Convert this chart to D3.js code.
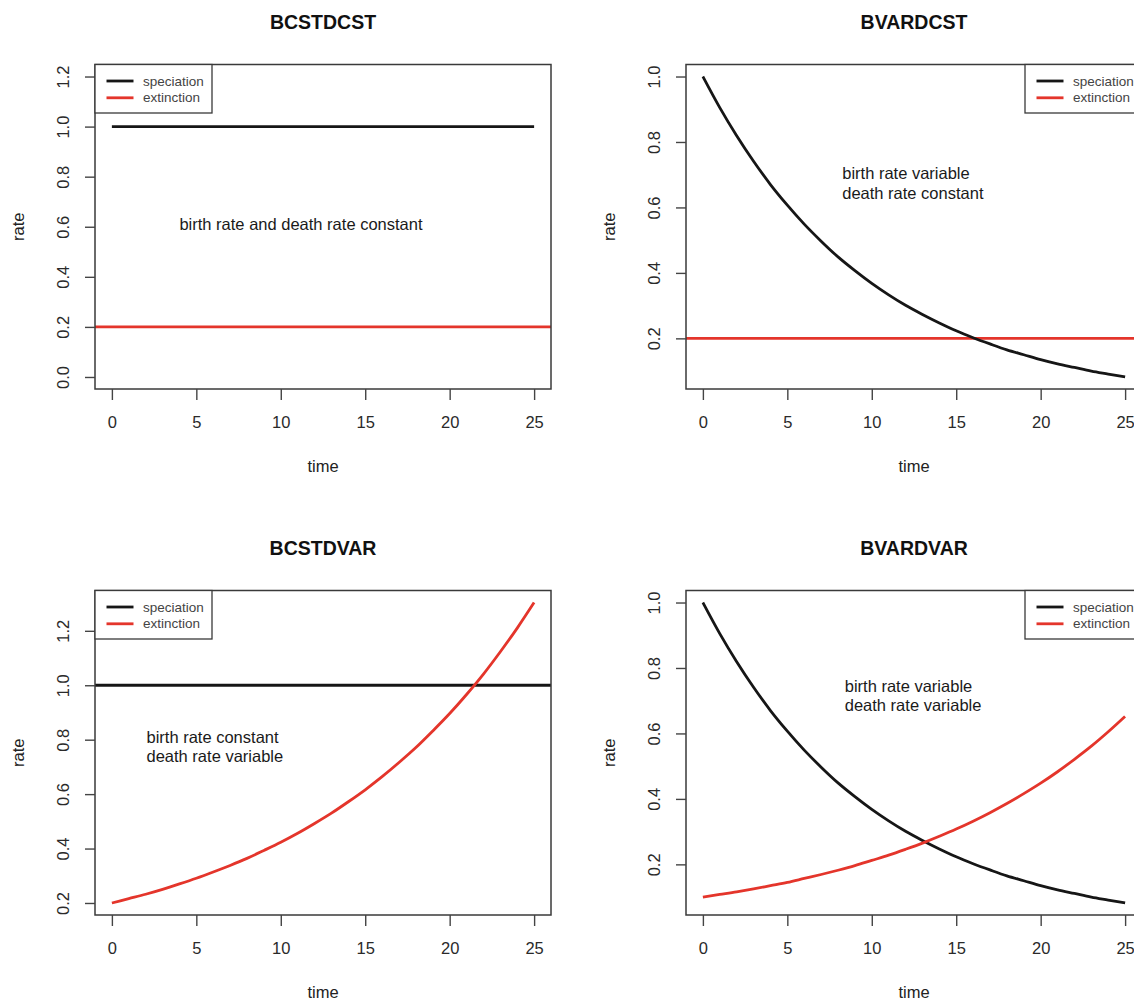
<html>
<head>
<script src="https://cdn.jsdelivr.net/npm/d3@7"></script>
<style>
  body { margin: 0; background: #fff; }
  text { font-family: "Liberation Sans", Arial, Helvetica, sans-serif; }
</style>
</head>
<body>
<script>
var width = 1134;
var height = 1000;

// time axis (0..25) and its tick labels
var time = [0, 1, 2, 3, 4, 5, 6, 7, 8, 9, 10, 11, 12, 13, 14, 15, 16, 17, 18, 19, 20, 21, 22, 23, 24, 25];
var timeTicks = [0, 5, 10, 15, 20, 25];

// constant rates (panel BCSTDCST speciation line is drawn over 0..25)
var speciationConst = [1, 1, 1, 1, 1, 1, 1, 1, 1, 1, 1, 1, 1, 1, 1, 1, 1, 1, 1, 1, 1, 1, 1, 1, 1, 1];
var speciationLevel = 1.0;
var extinctionLevel = 0.2;

// rates
var speciationVar = [1.000, 0.905, 0.819, 0.741, 0.670, 0.607, 0.549, 0.497, 0.449, 0.407, 0.368, 0.333, 0.301,
                     0.273, 0.247, 0.223, 0.202, 0.183, 0.165, 0.150, 0.135, 0.122, 0.111, 0.100, 0.091, 0.082];
var extinctionVarHigh = [0.200, 0.216, 0.232, 0.250, 0.270, 0.291, 0.314, 0.338, 0.364, 0.393, 0.423, 0.456, 0.492,
                         0.530, 0.572, 0.616, 0.664, 0.716, 0.771, 0.832, 0.896, 0.966, 1.041, 1.123, 1.210, 1.304];
var extinctionVarLow = [0.100, 0.108, 0.116, 0.125, 0.135, 0.145, 0.157, 0.169, 0.182, 0.196, 0.212, 0.228, 0.246,
                        0.265, 0.286, 0.308, 0.332, 0.358, 0.386, 0.416, 0.448, 0.483, 0.521, 0.561, 0.605, 0.652];

// y tick labels per panel
var ticksA = [0, 0.2, 0.4, 0.6, 0.8, 1.0, 1.2];
var ticksB = [0.2, 0.4, 0.6, 0.8, 1.0];
var ticksC = [0.2, 0.4, 0.6, 0.8, 1.0, 1.2];

var titles = ["BCSTDCST", "BVARDCST", "BCSTDVAR", "BVARDVAR"];
var notes = [
    ["birth rate and death rate constant"],
    ["birth rate variable", "death rate constant"],
    ["birth rate constant", "death rate variable"],
    ["birth rate variable", "death rate variable"]
];
var legendLabels = ["speciation", "extinction"];

var black = "#161616";
var red = "#e4352b";

// R style: extend range by 4% each side
function pad(ext) {
    var d = (ext[1] - ext[0]) * 0.04;
    return [ext[0] - d, ext[1] + d];
}

var panels = [
    { col: 0, row: 0, ylim: [0, 1.2], yTicks: ticksA, legend: "left", note: [4.0, 0.61],
      curves: [{ v: speciationConst, c: black }], hlines: [{ v: extinctionLevel, c: red }] },
    { col: 1, row: 0, yTicks: ticksB, legend: "right", note: [8.25, 0.705],
      curves: [{ v: speciationVar, c: black }], hlines: [{ v: extinctionLevel, c: red }] },
    { col: 0, row: 1, yTicks: ticksC, legend: "left", note: [2.05, 0.81],
      curves: [{ v: extinctionVarHigh, c: red }], hlines: [{ v: speciationLevel, c: black }] },
    { col: 1, row: 1, yTicks: ticksB, legend: "right", note: [8.4, 0.745],
      curves: [{ v: speciationVar, c: black }, { v: extinctionVarLow, c: red }], hlines: [] }
];

var box = { left: 95, right: 551, top: 64.5, bottom: 389 };
var colOffset = [0, 591];
var rowOffset = [0, 526];

const svg = d3.select("body").append("svg")
    .attr("width", width)
    .attr("height", height)
    .style("background", "#fff");

panels.forEach(function(p, i) {
    var g = svg.append("g")
        .attr("transform", `translate(${colOffset[p.col]}, ${rowOffset[p.row]})`);

    var xScale = d3.scaleLinear(pad(d3.extent(time)), [box.left, box.right]);
    var allVals = [];
    p.curves.forEach(c => allVals = allVals.concat(c.v));
    var yDom = p.ylim ? pad(p.ylim) : pad(d3.extent(allVals));
    var yScale = d3.scaleLinear(yDom, [box.bottom, box.top]);

    // clip to plot region
    g.append("clipPath").attr("id", "clip" + i)
        .append("rect")
        .attr("x", box.left).attr("y", box.top)
        .attr("width", box.right - box.left).attr("height", box.bottom - box.top);

    var plot = g.append("g").attr("clip-path", `url(#clip${i})`);

    p.hlines.forEach(h => {
        plot.append("line")
            .attr("x1", box.left).attr("x2", box.right)
            .attr("y1", yScale(h.v)).attr("y2", yScale(h.v))
            .attr("stroke", h.c)
            .attr("stroke-width", 2.8);
    });

    var line = d3.line()
        .x((d, j) => xScale(time[j]))
        .y(d => yScale(d))
        .curve(d3.curveMonotoneX);

    p.curves.forEach(c => {
        plot.append("path")
            .datum(c.v)
            .attr("d", line)
            .attr("fill", "none")
            .attr("stroke", c.c)
            .attr("stroke-width", 2.8)
            .attr("stroke-linejoin", "round");
    });

    // frame
    g.append("rect")
        .attr("x", box.left).attr("y", box.top)
        .attr("width", box.right - box.left).attr("height", box.bottom - box.top)
        .attr("fill", "none")
        .attr("stroke", "#3a3a3a")
        .attr("stroke-width", 1.5);

    // axes
    var xAxis = d3.axisBottom(xScale)
        .tickValues(timeTicks)
        .tickSize(11)
        .tickPadding(16)
        .tickSizeOuter(0);
    var gx = g.append("g")
        .attr("transform", `translate(0, ${box.bottom})`)
        .call(xAxis);
    gx.select(".domain").remove();
    gx.selectAll("line").attr("stroke", "#444").attr("stroke-width", 1.4);
    gx.selectAll("text").attr("fill", "#2a2a2a").style("font-size", "16.5px");

    var yAxis = d3.axisLeft(yScale)
        .tickValues(p.yTicks)
        .tickSize(10)
        .tickFormat(d3.format(".1f"))
        .tickSizeOuter(0);
    var gy = g.append("g")
        .attr("transform", `translate(${box.left}, 0)`)
        .call(yAxis);
    gy.select(".domain").remove();
    gy.selectAll("line").attr("stroke", "#444").attr("stroke-width", 1.4);
    gy.selectAll("text")
        .attr("x", 0)
        .attr("y", -26)
        .attr("dy", 0)
        .attr("transform", "rotate(-90)")
        .attr("text-anchor", "middle")
        .attr("fill", "#2a2a2a")
        .style("font-size", "16.5px");

    // titles and labels
    var cx = (box.left + box.right) / 2;
    g.append("text")
        .attr("x", cx).attr("y", 29)
        .attr("text-anchor", "middle")
        .style("font-size", "19.5px")
        .style("font-weight", "bold")
        .attr("fill", "#111")
        .text(titles[i]);

    g.append("text")
        .attr("x", cx).attr("y", 472)
        .attr("text-anchor", "middle")
        .style("font-size", "16.5px")
        .attr("fill", "#222")
        .text("time");

    g.append("text")
        .attr("transform", `translate(24, ${(box.top + box.bottom) / 2}) rotate(-90)`)
        .attr("text-anchor", "middle")
        .style("font-size", "16.5px")
        .attr("fill", "#222")
        .text("rate");

    // annotation
    var note = g.append("text")
        .attr("x", xScale(p.note[0]))
        .attr("y", yScale(p.note[1]))
        .attr("dominant-baseline", "central")
        .style("font-size", "16.5px")
        .attr("fill", "#1a1a1a");
    notes[i].forEach((t, k) => {
        note.append("tspan")
            .attr("x", xScale(p.note[0]))
            .attr("dy", k === 0 ? 0 : 19.5)
            .text(t);
    });

    // legend
    var lw = 117, lh = 48.5;
    var lx = p.legend === "left" ? box.left : box.right - lw;
    var leg = g.append("g").attr("transform", `translate(${lx}, ${box.top})`);
    leg.append("rect")
        .attr("width", lw).attr("height", lh)
        .attr("fill", "#fff")
        .attr("stroke", "#3a3a3a")
        .attr("stroke-width", 1.3);
    [black, red].forEach((c, k) => {
        var ly = 16.5 + k * 16.8;
        leg.append("line")
            .attr("x1", 11.5).attr("x2", 38.5)
            .attr("y1", ly).attr("y2", ly)
            .attr("stroke", c)
            .attr("stroke-width", 2.8);
        leg.append("text")
            .attr("x", 48).attr("y", ly)
            .attr("dominant-baseline", "central")
            .style("font-size", "13.5px")
            .attr("fill", "#444")
            .text(legendLabels[k]);
    });
});
</script>
</body>
</html>
